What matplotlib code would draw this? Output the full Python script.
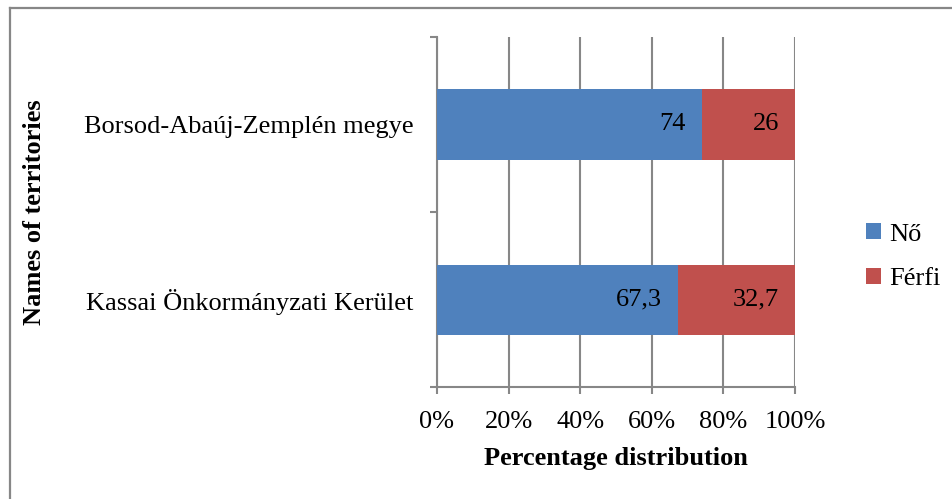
import matplotlib
matplotlib.use("Agg")
import matplotlib.pyplot as plt
from matplotlib.patches import Rectangle
from matplotlib.lines import Line2D

plt.rcParams["font.family"] = ["Liberation Serif", "DejaVu Serif"]

territories = ["Kassai Önkormányzati Kerület", "Borsod-Abaúj-Zemplén megye"]
no_share = [67.3, 74.0]
ferfi_share = [32.7, 26.0]
series_names = ["Nő", "Férfi"]
x_ticks = [0, 20, 40, 60, 80, 100]
x_tick_labels = ["0%", "20%", "40%", "60%", "80%", "100%"]

blue = "#4F81BD"
red = "#C0504D"
grey = "#878787"
FS = 19

W, H = 952, 499
fig = plt.figure(figsize=(W / 100, H / 100), dpi=100)
ax = fig.add_axes([437 / W, 1 - 387 / H, (795 - 437) / W, (387 - 37) / H])

pos = list(range(len(territories)))
b1 = ax.barh(pos, no_share, height=0.4, color=blue, edgecolor="none", zorder=3, label=series_names[0])
b2 = ax.barh(pos, ferfi_share, left=no_share, height=0.4, color=red, edgecolor="none", zorder=3, label=series_names[1])


def fmt(v):
    return f"{v:g}".replace(".", ",")


for bars, lefts, vals in ((b1, [0] * len(pos), no_share), (b2, no_share, ferfi_share)):
    for rect, l, v in zip(bars, lefts, vals):
        ax.annotate(fmt(v), xy=(l + v, rect.get_y() + rect.get_height() / 2),
                    xytext=(-11.5, 0), textcoords="offset points",
                    ha="right", va="center", fontsize=FS, color="black", zorder=5)

ax.set_xlim(0, 100)
ax.set_ylim(-0.5, len(pos) - 0.5)
ax.set_xticks(x_ticks)
ax.set_xticklabels(x_tick_labels, fontsize=FS)
ax.set_yticks(pos)
ax.set_yticklabels(territories, fontsize=FS)
ax.set_yticks([p - 0.5 for p in pos] + [pos[-1] + 0.5], minor=True)

ax.tick_params(axis="y", which="major", length=0, pad=17)
ax.tick_params(axis="y", which="minor", length=5, width=1.5, color=grey, direction="out")
ax.tick_params(axis="x", which="major", length=5, width=1.5, color=grey, direction="out", pad=12)

ax.grid(axis="x", color=grey, linewidth=1.5, zorder=0)
for s in ("top", "right"):
    ax.spines[s].set_visible(False)
for s in ("left", "bottom"):
    ax.spines[s].set_color(grey)
    ax.spines[s].set_linewidth(1.5)

ax.set_xlabel("Percentage distribution", fontsize=FS, fontweight="bold", labelpad=10)
fig.text(35 / W, 1 - 212 / H, "Names of territories", rotation=90, ha="center", va="center",
         fontsize=FS, fontweight="bold")

handles = [Rectangle((0, 0), 1, 1, facecolor=blue), Rectangle((0, 0), 1, 1, facecolor=red)]
fig.legend(handles, series_names, loc="center left", bbox_to_anchor=(848 / W, 1 - 257 / H),
           frameon=False, fontsize=FS, handlelength=0.55, handleheight=0.55,
           handletextpad=0.3, labelspacing=0.85, borderpad=0.2)

# outer frame
fig.add_artist(Line2D([9.5 / W, 1.0], [1 - 7.7 / H, 1 - 7.7 / H], transform=fig.transFigure,
                      color=grey, linewidth=1.6))
fig.add_artist(Line2D([9.5 / W, 9.5 / W], [0.0, 1 - 7.7 / H], transform=fig.transFigure,
                      color=grey, linewidth=1.6))

fig.savefig("out.png", dpi=100, facecolor="white")
